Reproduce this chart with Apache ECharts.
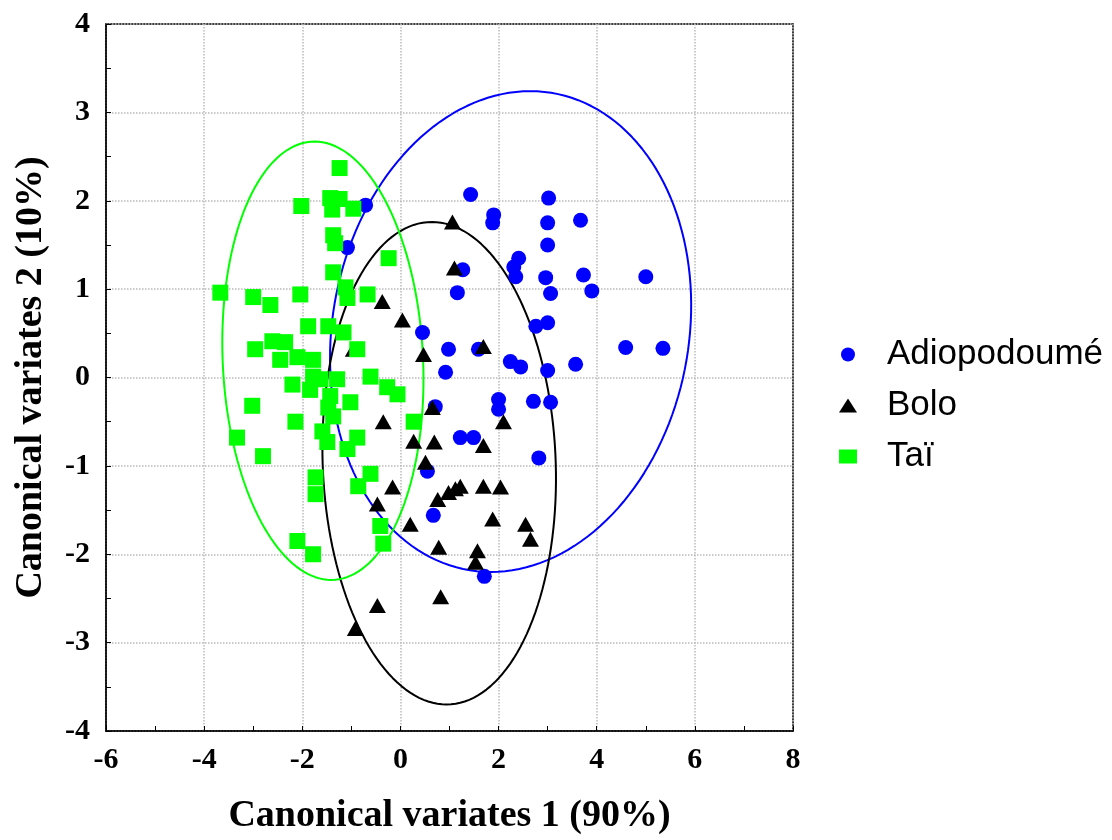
<!DOCTYPE html>
<html>
<head>
<meta charset="utf-8">
<title>Canonical variates</title>
<script src="https://cdn.jsdelivr.net/npm/echarts@6/dist/echarts.min.js"></script>
<style>
html, body { margin: 0; padding: 0; background: #fff; }
#chart { width: 1112px; height: 840px; }
</style>
</head>
<body>
<div id="chart"></div>
<script>
// 组别
var groupNames = ['Adiopodoumé', 'Bolo', 'Taï'];

// Adiopodoumé
var adioX = [1.43, 1.90, 1.88, 3.02, 3.00, 3.00, 3.67, 2.41, 2.31, 2.35, 2.96, 3.06, 3.73, 3.90, 5.00,
	1.27, 1.16, 3.00, 2.76, 4.59, 5.35, 3.57, 3.00, 0.45, 0.98, 1.59, 2.24, 2.45, 0.92, 2.00,
	2.00, 2.71, 3.06, 0.71, 1.22, 1.49, 2.82, 0.55, 0.67, 1.71, -0.71, -1.08];
var adioY = [2.07, 1.84, 1.75, 2.03, 1.75, 1.50, 1.78, 1.35, 1.25, 1.14, 1.13, 0.95, 1.16, 0.98, 1.14,
	1.22, 0.96, 0.62, 0.58, 0.34, 0.33, 0.15, 0.08, 0.51, 0.32, 0.32, 0.18, 0.12, 0.06, -0.25,
	-0.36, -0.27, -0.28, -0.33, -0.68, -0.68, -0.91, -1.06, -1.56, -2.25, 1.95, 1.47];

// Bolo
var boloX = [1.06, 1.10, -0.37, 0.04, 1.69, 0.47, -0.96, -0.35, 0.65, 2.10, 0.27, 0.69, 1.69, 0.51,
	-0.16, -0.47, 0.76, 0.98, 1.12, 1.22, 1.69, 2.04, 1.88, 0.20, 2.55, 2.65, 0.78, 1.57, 1.53,
	0.82, -0.47, -0.92];
var boloY = [1.76, 1.24, 0.86, 0.65, 0.35, 0.26, 0.32, -0.50, -0.34, -0.50, -0.72, -0.73, -0.77, -0.96,
	-1.24, -1.43, -1.38, -1.30, -1.26, -1.23, -1.23, -1.24, -1.60, -1.66, -1.66, -1.83, -1.92, -1.96, -2.09,
	-2.48, -2.58, -2.84];

// Taï
var taiX = [-1.24, -2.02, -1.43, -1.24, -1.39, -0.96, -1.37, -1.33, -0.24, -1.37, -1.12, -1.08, -0.67,
	-3.67, -3.00, -2.65, -2.04, -1.88, -1.47, -1.16, -2.96, -2.61, -2.35, -2.45, -2.10, -1.78, -0.88,
	-2.20, -1.78, -1.29, -1.84, -1.43, -1.02, -0.61, -0.27, -0.06, -3.02, -2.14, -1.47, -1.37, 0.27,
	-3.33, -1.59, -1.49, -0.88, -1.08, -2.80, -1.73, -1.73, -0.61, -0.86, -0.41, -0.35, -2.10, -1.78,
	-1.63];
var taiY = [2.37, 1.94, 2.03, 2.02, 1.90, 1.91, 1.61, 1.52, 1.35, 1.19, 1.02, 0.90, 0.94,
	0.96, 0.91, 0.82, 0.94, 0.58, 0.58, 0.51, 0.32, 0.41, 0.40, 0.20, 0.23, 0.20, 0.32,
	-0.08, 0.01, -0.02, -0.14, -0.21, -0.28, 0.01, -0.11, -0.19, -0.32, -0.50, -0.34, -0.44, -0.50,
	-0.68, -0.61, -0.73, -0.68, -0.81, -0.89, -1.13, -1.32, -1.09, -1.23, -1.68, -1.88, -1.85, -2.00,
	-0.02];

// 置信椭圆参数 (中心, 顶点偏移, 半高, 半宽)
var ellipseCx = [2.245, 0.79, -1.58];
var ellipseCy = [0.52, -0.97, 0.19];
var ellipseTopDx = [0.40, -0.15, -0.17];
var ellipseHalfH = [2.72, 2.73, 2.48];
var ellipseHalfW = [3.68, 2.38, 2.05];

var groupColors = ['#0000ff', '#000000', '#00ff00'];

function pairs(xs, ys) {
	var out = [];
	for (var i = 0; i < xs.length; i++) {
		out.push([xs[i], ys[i]]);
	}
	return out;
}

// 椭圆轮廓
function ellipsePoints(k) {
	var pts = [], n = 160;
	var p1 = ellipseTopDx[k];
	var q1 = Math.sqrt(ellipseHalfW[k] * ellipseHalfW[k] - p1 * p1);
	for (var i = 0; i <= n; i++) {
		var t = 2 * Math.PI * i / n;
		pts.push([ellipseCx[k] + p1 * Math.cos(t) + q1 * Math.sin(t),
				ellipseCy[k] + ellipseHalfH[k] * Math.cos(t)]);
	}
	return pts;
}

var series = [];
for (var k = 0; k < 3; k++) {
	series.push({
		type : 'line',
		data : ellipsePoints(k),
		showSymbol : false,
		silent : true,
		z : 1,
		lineStyle : {
			color : groupColors[k],
			width : 2
		}
	});
}
series.push({
	name : groupNames[0],
	type : 'scatter',
	symbol : 'circle',
	symbolSize : 15,
	z : 3,
	itemStyle : { color : groupColors[0], opacity : 1 },
	data : pairs(adioX, adioY)
}, {
	name : groupNames[1],
	type : 'scatter',
	symbol : 'triangle',
	symbolSize : [17, 15],
	z : 4,
	itemStyle : { color : groupColors[1], opacity : 1 },
	data : pairs(boloX, boloY)
}, {
	name : groupNames[2],
	type : 'scatter',
	symbol : 'rect',
	symbolSize : 16,
	z : 5,
	itemStyle : { color : groupColors[2], opacity : 1 },
	data : pairs(taiX, taiY)
});

var axisFont = {
	fontFamily : 'Liberation Serif',
	fontWeight : 'bold',
	color : '#000'
};

var chart = echarts.init(document.getElementById('chart'));
chart.setOption({
	animation : false,
	backgroundColor : '#fff',
	grid : {
		left : 106,
		right : 319,
		top : 24,
		bottom : 107,
		show : true,
		borderColor : '#000',
		borderWidth : 1.5,
		backgroundColor : 'transparent'
	},
	legend : {
		orient : 'vertical',
		left : 834,
		top : 332,
		itemGap : 16,
		itemWidth : 18,
		itemHeight : 14,
		data : groupNames,
		textStyle : {
			fontFamily : 'Liberation Sans',
			fontSize : 35,
			color : '#000',
			padding : [0, 0, 0, 25]
		}
	},
	xAxis : {
		type : 'value',
		min : -6,
		max : 8,
		interval : 2,
		name : 'Canonical variates 1 (90%)',
		nameLocation : 'middle',
		nameGap : 66,
		nameTextStyle : {
			fontFamily : 'Liberation Serif',
			fontWeight : 'bold',
			fontSize : 38,
			color : '#000'
		},
		axisLine : { show : true, onZero : false, lineStyle : { color : '#000', width : 1.5 } },
		axisTick : { show : true, inside : true, length : 5, lineStyle : { color : '#000' } },
		minorTick : { show : true, splitNumber : 2, length : 5, lineStyle : { color : '#000' } },
		splitLine : { show : true, lineStyle : { color : '#bbb', type : 'dotted', width : 1.5 } },
		axisLabel : Object.assign({ fontSize : 30, margin : 14 }, axisFont)
	},
	yAxis : {
		type : 'value',
		min : -4,
		max : 4,
		interval : 1,
		name : 'Canonical variates 2 (10%)',
		nameLocation : 'middle',
		nameGap : 56,
		nameTextStyle : {
			fontFamily : 'Liberation Serif',
			fontWeight : 'bold',
			fontSize : 38,
			color : '#000'
		},
		axisLine : { show : true, onZero : false, lineStyle : { color : '#000', width : 1.5 } },
		axisTick : { show : true, inside : true, length : 5, lineStyle : { color : '#000' } },
		minorTick : { show : true, splitNumber : 2, length : 5, lineStyle : { color : '#000' } },
		splitLine : { show : true, lineStyle : { color : '#bbb', type : 'dotted', width : 1.5 } },
		axisLabel : Object.assign({ fontSize : 30, margin : 16 }, axisFont)
	},
	series : series
});
</script>
</body>
</html>
